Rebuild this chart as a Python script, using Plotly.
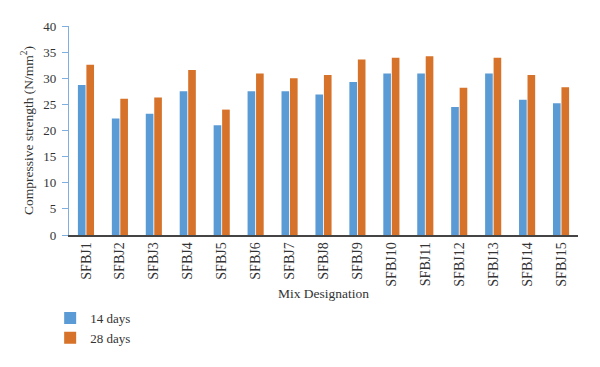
import plotly.graph_objects as go

categories = ["SFBJ1", "SFBJ2", "SFBJ3", "SFBJ4", "SFBJ5", "SFBJ6", "SFBJ7", "SFBJ8",
              "SFBJ9", "SFBJ10", "SFBJ11", "SFBJ12", "SFBJ13", "SFBJ14", "SFBJ15"]
days14 = [28.7, 22.3, 23.2, 27.5, 21.0, 27.5, 27.5, 26.9, 29.3, 30.9, 30.9, 24.5, 30.9, 25.9, 25.2]
days28 = [32.6, 26.1, 26.3, 31.6, 24.0, 30.9, 30.0, 30.6, 33.6, 33.9, 34.2, 28.2, 33.9, 30.6, 28.3]
y_ticks = [0, 5, 10, 15, 20, 25, 30, 35, 40]

FONT = "Liberation Serif"

fig = go.Figure()
fig.add_trace(go.Bar(name="14 days", x=categories, y=days14, marker_color="#5B9BD5",
                     marker_line_width=0))
fig.add_trace(go.Bar(name="28 days", x=categories, y=days28, marker_color="#D6722A",
                     marker_line_width=0))

fig.update_layout(
    width=600, height=367,
    margin=dict(l=61, r=30, t=18, b=140, autoexpand=False),
    paper_bgcolor="white", plot_bgcolor="white",
    barmode="group", bargap=0.5, bargroupgap=0.1,
    font=dict(family=FONT, size=12, color="#333333"),
    showlegend=True,
    legend=dict(orientation="v", x=-0.037, xanchor="left", y=-0.325, yanchor="top",
                font=dict(family=FONT, size=13, color="#333333"),
                itemwidth=30, tracegroupgap=0),
    xaxis=dict(
        automargin=False,
        tickangle=-90, tickfont=dict(family=FONT, size=14, color="#333333"),
        showline=True, linecolor="#444444", linewidth=1.5,
        showgrid=False, ticks="",
        title=dict(text="Mix Designation", font=dict(family=FONT, size=13.5, color="#333333"),
                   standoff=3),
    ),
    yaxis=dict(
        automargin=False,
        range=[0, 40], tickvals=y_ticks,
        tickfont=dict(family=FONT, size=13, color="#333333"),
        showline=True, linecolor="#7FAEE0", linewidth=1.2,
        ticks="outside", ticklen=6, tickcolor="#7FAEE0",
        ticklabelstandoff=3,
        showgrid=False, zeroline=False,
        title=dict(text="Compressive strength (N/mm<sup>2</sup>)",
                   font=dict(family=FONT, size=13.5, color="#333333"), standoff=6),
    ),
)

fig.write_html("out.html")
